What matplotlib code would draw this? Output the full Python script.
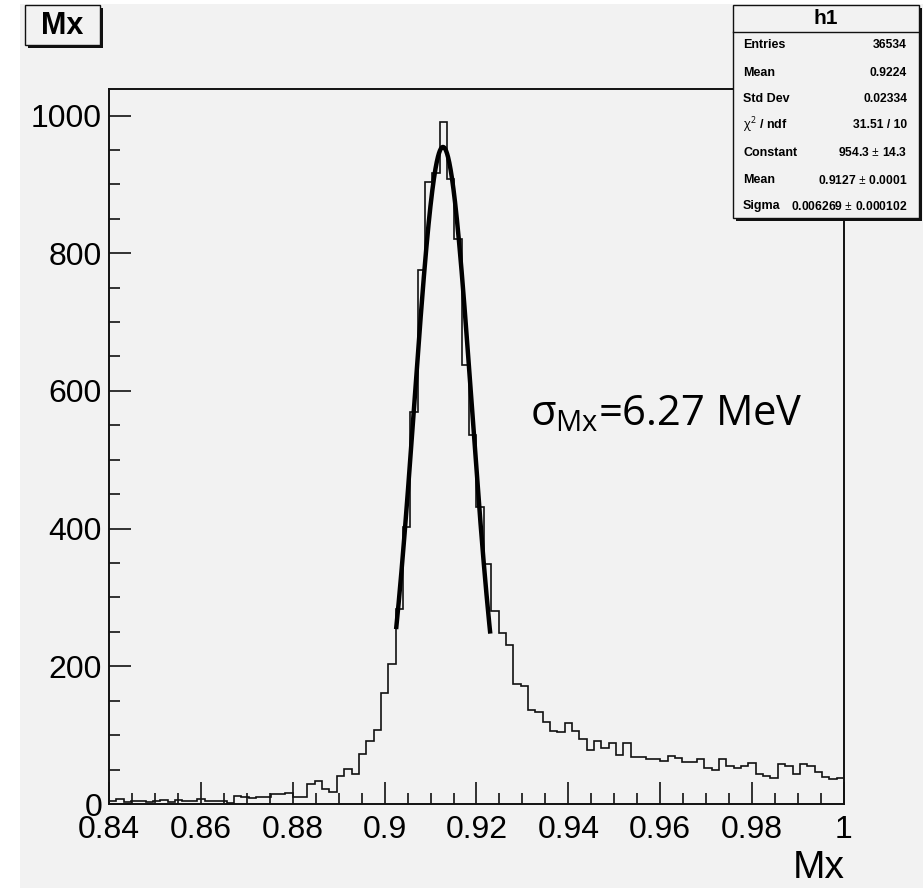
import matplotlib
matplotlib.use('Agg')
import matplotlib.pyplot as plt
import numpy as np
from matplotlib.patches import Rectangle
from matplotlib.lines import Line2D
from matplotlib.ticker import FixedLocator, MultipleLocator, FixedFormatter
from matplotlib import font_manager

# ---------------- data ----------------
counts = [5, 7, 3, 5, 4, 3, 5, 6, 3, 6, 5, 4, 7, 5, 4, 5, 2, 12, 10, 8, 10, 10, 15, 14,
          16, 10, 10, 29, 34, 22, 18, 40, 51, 43, 73, 91, 108, 161, 204, 283,
          403, 569, 775, 904, 917, 990, 908, 820, 638, 536, 432, 349, 280, 248, 231,
          174, 171, 136, 133, 119, 106, 104, 117, 106, 94, 79, 91, 81, 89, 71, 88, 68,
          68, 66, 66, 62, 70, 67,
          61, 61, 65, 53, 50, 65, 55, 52, 55, 60, 43, 41, 38, 58, 55, 43, 58, 55, 46,
          39, 37, 38]
x_lo, x_hi = 0.84, 1.0
fit_const, fit_mean, fit_sigma = 954.3, 0.9127, 0.006269
fit_lo, fit_hi = 0.9025, 0.9230

x_ticks = [0.84, 0.86, 0.88, 0.90, 0.92, 0.94, 0.96, 0.98, 1.00]
x_tick_labels = ['0.84', '0.86', '0.88', '0.9', '0.92', '0.94', '0.96', '0.98', '1']
y_ticks = [0, 200, 400, 600, 800, 1000]
y_tick_labels = ['0', '200', '400', '600', '800', '1000']
y_max = 1038.5

title_text = 'Mx'
x_title = 'Mx'
stats_name = 'h1'
stats_labels = ['Entries', 'Mean', 'Std Dev', '$\\chi^{2}$ / ndf', 'Constant', 'Mean', 'Sigma']
stats_values = ['36534', '0.9224', '0.02334', '31.51 / 10', '954.3 $\\pm$ 14.3',
                '0.9127 $\\pm$ 0.0001', '0.006269 $\\pm$ 0.000102']
note_text = '$\\sigma_{\\mathrm{Mx}}$=6.27 MeV'

# ---------------- figure ----------------
W, H = 923, 890
names = {f.name for f in font_manager.fontManager.ttflist}
NARROW = 'Liberation Sans Narrow' if 'Liberation Sans Narrow' in names else 'Liberation Sans'
narrow_ok = NARROW == 'Liberation Sans Narrow'

plt.rcParams['mathtext.fontset'] = 'custom'
plt.rcParams['mathtext.rm'] = 'Liberation Sans'
plt.rcParams['mathtext.it'] = 'Liberation Sans'
plt.rcParams['mathtext.bf'] = 'Liberation Sans:bold'

fig = plt.figure(figsize=(W / 100, H / 100), dpi=100)
fig.patch.set_facecolor('white')
GRAY = '#f2f2f2'


def fx(px):
    return px / W


def fy(py):
    return 1 - py / H


fig.patches.append(Rectangle((fx(20), fy(888)), 1 - fx(20), fy(4) - fy(888),
                             transform=fig.transFigure, facecolor=GRAY,
                             edgecolor='none', zorder=-10))

ax = fig.add_axes([fx(109), fy(804), fx(844) - fx(109), fy(89) - fy(804)])
ax.set_facecolor(GRAY)
ax.set_zorder(1)

edges = np.linspace(x_lo, x_hi, len(counts) + 1)
ax.stairs(counts, edges, color='#111111', lw=1.2, baseline=None)

xf = np.linspace(fit_lo, fit_hi, 300)
yf = fit_const * np.exp(-0.5 * ((xf - fit_mean) / fit_sigma) ** 2)
ax.plot(xf, yf, color='black', lw=3.2, solid_capstyle='butt')

ax.set_xlim(x_lo, x_hi)
ax.set_ylim(0, y_max)
for s in ax.spines.values():
    s.set_linewidth(1.4)
    s.set_color('#111111')

ax.xaxis.set_major_locator(FixedLocator(x_ticks))
ax.xaxis.set_major_formatter(FixedFormatter(x_tick_labels))
ax.xaxis.set_minor_locator(MultipleLocator(0.005))
ax.yaxis.set_major_locator(FixedLocator(y_ticks))
ax.yaxis.set_major_formatter(FixedFormatter(y_tick_labels))
ax.yaxis.set_minor_locator(MultipleLocator(50))
ax.tick_params(which='both', direction='in', top=False, right=False, color='#111111')
ax.tick_params(which='major', length=15.5, width=1.2)
ax.tick_params(which='minor', length=7.8, width=1.2)
ax.tick_params(axis='x', which='major', pad=8, labelsize=(26 if narrow_ok else 23))
ax.tick_params(axis='y', which='major', pad=5, labelsize=23)
for lab in ax.get_xticklabels():
    lab.set_family(NARROW)
for lab in ax.get_yticklabels():
    lab.set_family('Liberation Sans')

fig.text(fx(845), fy(886), x_title, ha='right', va='bottom',
         fontsize=(32 if narrow_ok else 28), family=NARROW, zorder=3)

# title box
fig.patches.append(Rectangle((fx(27.5), fy(47.5)), fx(100) - fx(25), fy(5) - fy(45),
                             transform=fig.transFigure, facecolor='#111111',
                             edgecolor='none', zorder=5))
fig.patches.append(Rectangle((fx(25), fy(45)), fx(100) - fx(25), fy(5) - fy(45),
                             transform=fig.transFigure, facecolor=GRAY,
                             edgecolor='#111111', lw=1.0, zorder=6))
fig.text(fx(62.5), fy(26), title_text, ha='center', va='center', fontsize=22,
         weight='bold', family='Liberation Sans', zorder=7)

# stats box
bx0, bx1, by0, by1 = 733, 919, 5, 218
fig.patches.append(Rectangle((fx(bx0 + 3), fy(by1 + 3)), fx(bx1) - fx(bx0), fy(by0) - fy(by1),
                             transform=fig.transFigure, facecolor='#111111',
                             edgecolor='none', zorder=5))
fig.patches.append(Rectangle((fx(bx0), fy(by1)), fx(bx1) - fx(bx0), fy(by0) - fy(by1),
                             transform=fig.transFigure, facecolor=GRAY,
                             edgecolor='#111111', lw=1.0, zorder=6))
fig.lines.append(Line2D([fx(bx0), fx(bx1)], [fy(32), fy(32)], transform=fig.transFigure,
                        color='#111111', lw=1.0, zorder=7))
fig.text(fx((bx0 + bx1) / 2), fy(18.5), stats_name, ha='center', va='center',
         fontsize=15, weight='bold', family='Liberation Sans', zorder=8)
row_y = [45, 72.5, 99, 125.5, 152.5, 180, 206]
for lab, val, yy in zip(stats_labels, stats_values, row_y):
    fig.text(fx(743), fy(yy), lab, ha='left', va='center', fontsize=9,
             weight='bold', family='Liberation Sans', zorder=8)
    fig.text(fx(907), fy(yy), val, ha='right', va='center', fontsize=8.7,
             weight='bold', family='Liberation Sans', zorder=8)

# annotation
plt.rcParams['mathtext.rm'] = 'Open Sans'
plt.rcParams['mathtext.it'] = 'Open Sans'
fig.text(fx(530), fy(425), note_text, ha='left', va='baseline', fontsize=30,
         family='Open Sans', zorder=8)

fig.savefig('out.png', dpi=100, facecolor='white')
